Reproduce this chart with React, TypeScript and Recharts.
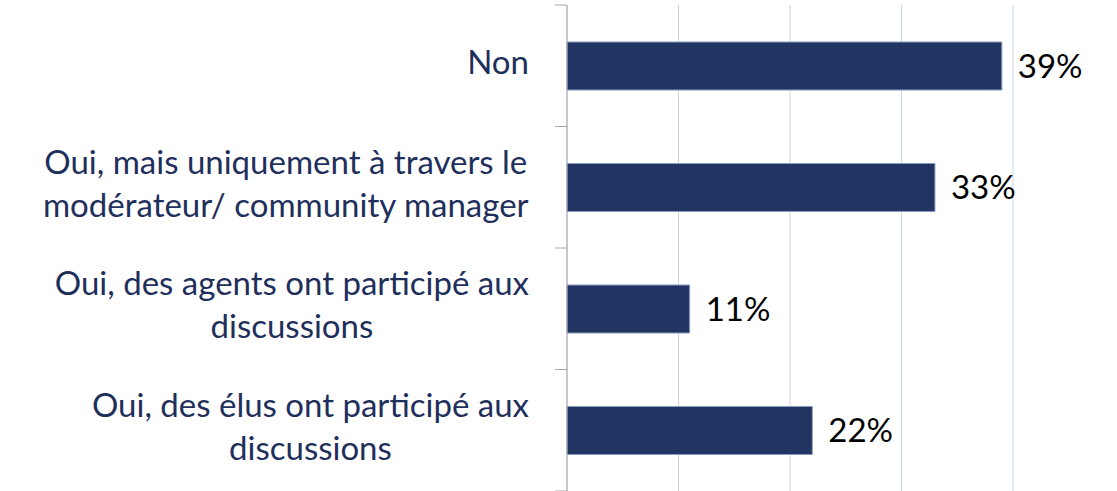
import { BarChart, Bar, XAxis, YAxis, CartesianGrid, LabelList } from 'recharts';

const categories = [
  'Non',
  'Oui, mais uniquement à travers le\nmodérateur/ community manager',
  'Oui, des agents ont participé aux\ndiscussions',
  'Oui, des élus ont participé aux\ndiscussions',
];
const shares = [0.39, 0.33, 0.11, 0.22];
const xTicks = [0, 0.1, 0.2, 0.3, 0.4];

const data = categories.map((name, i) => ({ name, value: shares[i] }));

const WIDTH = 1117;
const HEIGHT = 491;
const MARGIN = { top: 5, right: 104, bottom: 0, left: 0 };
const AXIS_W = 567;
const BAND = (HEIGHT - MARGIN.top - MARGIN.bottom) / categories.length;
const FONT = 'Lato, "Open Sans", sans-serif';
const FONT_SIZE = 33;
const LINE_H = 43;
const NAVY = '#1f2f5c';

let ctx: CanvasRenderingContext2D | null = null;
function measure(text: string) {
  if (!ctx) ctx = document.createElement('canvas').getContext('2d');
  if (!ctx) return text.length * FONT_SIZE * 0.5;
  ctx.font = `${FONT_SIZE}px ${FONT}`;
  return ctx.measureText(text).width;
}

function CategoryTick(props: any) {
  const { x, y, payload, index } = props;
  const lines = String(payload.value).split('\n');
  const maxW = Math.max(...lines.map(measure));
  const right = x - 30;
  const cx = right - maxW / 2;
  const capMid = y - 4 - ((lines.length - 1) * LINE_H) / 2;
  const axisX = x + 8;
  return (
    <g>
      <line x1={axisX - 12} x2={axisX} y1={y - BAND / 2} y2={y - BAND / 2} stroke="#a6a6a6" />
      {index === categories.length - 1 && (
        <line x1={axisX - 12} x2={axisX} y1={y + BAND / 2} y2={y + BAND / 2} stroke="#a6a6a6" />
      )}
      <text textAnchor="middle" fill={NAVY} fontSize={FONT_SIZE} fontFamily={FONT}>
        {lines.map((l, i) => (
          <tspan key={i} x={cx} y={capMid + i * LINE_H + FONT_SIZE * 0.36}>
            {l}
          </tspan>
        ))}
      </text>
    </g>
  );
}

export default function App() {
  return (
    <div style={{ position: 'absolute', left: 0, top: 0, background: '#fff' }}>
      <BarChart
        width={WIDTH}
        height={HEIGHT}
        data={data}
        layout="vertical"
        margin={MARGIN}
        barSize={48}
      >
        <CartesianGrid horizontal={false} stroke="#c9d4ea" />
        <XAxis type="number" domain={[0, 0.4]} ticks={xTicks} hide />
        <YAxis
          type="category"
          dataKey="name"
          width={AXIS_W}
          axisLine={{ stroke: '#a6a6a6' }}
          tickLine={false}
          tick={<CategoryTick />}
          interval={0}
        />
        <Bar dataKey="value" fill="#213462" stroke="#8a9bbd" strokeWidth={1} isAnimationActive={false}>
          <LabelList
            dataKey="value"
            position="right"
            offset={16}
            formatter={(v: any) => `${Math.round(Number(v) * 100)}%`}
            fill="#000"
            fontSize={FONT_SIZE}
            fontFamily={FONT}
          />
        </Bar>
      </BarChart>
    </div>
  );
}
